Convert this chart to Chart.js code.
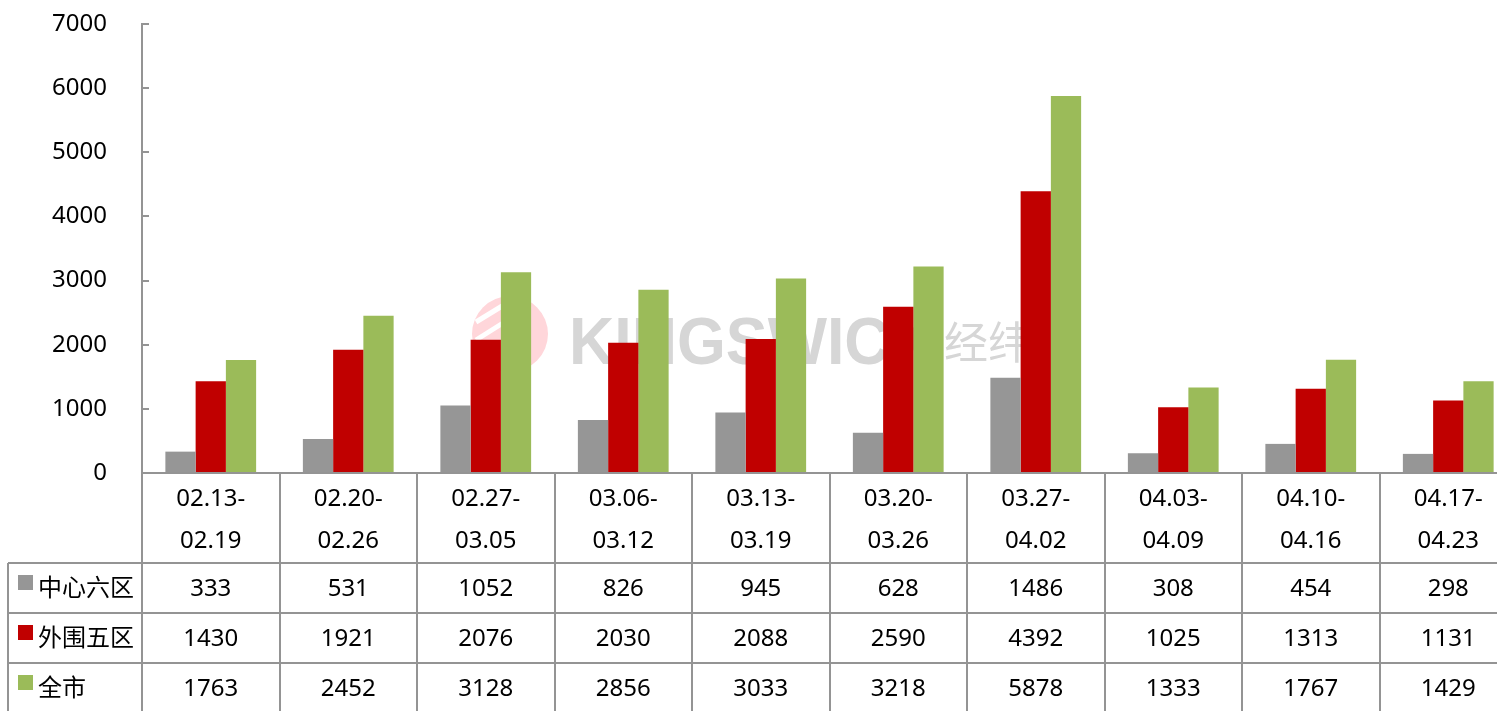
<!DOCTYPE html>
<html>
<head>
<meta charset="utf-8">
<script src="https://cdn.jsdelivr.net/npm/chart.js@4.4.1/dist/chart.umd.min.js"></script>
<style>
    html, body { margin: 0; padding: 0; background: #ffffff; overflow: hidden; }
    #wrap { width: 1520px; height: 711px; }
</style>
</head>
<body>
<div id="wrap"><canvas id="weekChart" width="1520" height="711"></canvas></div>
<script>
// Chart data
const weeks = [
    ['02.13-', '02.19'], ['02.20-', '02.26'], ['02.27-', '03.05'], ['03.06-', '03.12'], ['03.13-', '03.19'],
    ['03.20-', '03.26'], ['03.27-', '04.02'], ['04.03-', '04.09'], ['04.10-', '04.16'], ['04.17-', '04.23']
];
const seriesNames = ['中心六区', '外围五区', '全市'];
const centralSix = [333, 531, 1052, 826, 945, 628, 1486, 308, 454, 298];
const outerFive = [1430, 1921, 2076, 2030, 2088, 2590, 4392, 1025, 1313, 1131];
const wholeCity = [1763, 2452, 3128, 2856, 3033, 3218, 5878, 1333, 1767, 1429];
const yTicks = [0, 1000, 2000, 3000, 4000, 5000, 6000, 7000];

const seriesColors = ['#969696', '#C00000', '#9BBB59'];
const lineColor = '#949494';
const textFont = '"Noto Sans", "Noto Sans CJK SC", sans-serif';

// Faint watermark behind the bars
const watermarkPlugin = {
    id: 'watermark',
    beforeDatasetsDraw(chart) {
        const ctx = chart.ctx;
        ctx.save();
        // round logo
        ctx.fillStyle = '#ffd6da';
        ctx.beginPath();
        ctx.arc(510, 334, 38, 0, Math.PI * 2);
        ctx.fill();
        ctx.strokeStyle = '#ffffff';
        ctx.lineWidth = 5;
        ctx.beginPath();
        ctx.moveTo(476, 322); ctx.lineTo(512, 300);
        ctx.moveTo(476, 340); ctx.lineTo(530, 306);
        ctx.stroke();
        // text
        ctx.fillStyle = '#d6d6d6';
        ctx.textBaseline = 'alphabetic';
        ctx.font = 'bold 66px "Liberation Sans", sans-serif';
        const w = ctx.measureText('KINGSWICK').width;
        ctx.translate(569, 364);
        ctx.scale(366 / w, 1);
        ctx.fillText('KINGSWICK', 0, 0);
        ctx.restore();
        ctx.save();
        ctx.fillStyle = '#d6d6d6';
        ctx.font = '44px "Noto Sans CJK SC", sans-serif';
        ctx.textBaseline = 'middle';
        ctx.fillText('经纬', 944, 342);
        ctx.restore();
    }
};

// Inside tick marks on the value axis
const innerTicksPlugin = {
    id: 'innerTicks',
    afterDraw(chart) {
        const ctx = chart.ctx;
        const ys = chart.scales.y;
        const left = chart.chartArea.left;
        ctx.save();
        ctx.strokeStyle = lineColor;
        ctx.lineWidth = 2;
        ctx.beginPath();
        yTicks.forEach(v => {
            const y = Math.round(ys.getPixelForValue(v));
            ctx.moveTo(left, y);
            ctx.lineTo(left + 7, y);
        });
        ctx.stroke();
        ctx.restore();
    }
};

// Data table under the plot
const dataTablePlugin = {
    id: 'dataTable',
    afterDraw(chart) {
        const ctx = chart.ctx;
        const area = chart.chartArea;
        const colW = (area.right - area.left) / weeks.length;
        const top = area.bottom;
        const headerBottom = top + 90;
        const rowH = 50;
        const tableLeft = 8;
        const bottom = headerBottom + rowH * 3;

        ctx.save();
        ctx.strokeStyle = lineColor;
        ctx.lineWidth = 2;
        ctx.beginPath();
        // horizontal lines
        ctx.moveTo(area.left, top); ctx.lineTo(area.right, top);
        for (let r = 0; r < 3; r++) {
            const y = headerBottom + r * rowH;
            ctx.moveTo(tableLeft, y); ctx.lineTo(area.right, y);
        }
        // vertical lines
        ctx.moveTo(tableLeft, headerBottom); ctx.lineTo(tableLeft, bottom);
        for (let i = 0; i <= weeks.length; i++) {
            const x = Math.round(area.left + i * colW);
            ctx.moveTo(x, top); ctx.lineTo(x, bottom);
        }
        ctx.stroke();

        ctx.fillStyle = '#000000';
        ctx.font = '24px ' + textFont;
        ctx.textAlign = 'center';
        ctx.textBaseline = 'middle';
        // header labels
        weeks.forEach((lines, i) => {
            const cx = area.left + (i + 0.5) * colW;
            ctx.fillText(lines[0], cx, top + 26);
            ctx.fillText(lines[1], cx, top + 68);
        });
        // rows
        chart.data.datasets.forEach((ds, r) => {
            const cy = headerBottom + r * rowH + rowH / 2 + 1;
            ds.data.forEach((v, i) => {
                const cx = area.left + (i + 0.5) * colW;
                ctx.fillText(String(v), cx, cy);
            });
            ctx.fillStyle = ds.backgroundColor;
            ctx.fillRect(18, cy - 14, 15, 15);
            ctx.fillStyle = '#000000';
            ctx.textAlign = 'left';
            ctx.fillText(ds.label, 38, cy);
            ctx.textAlign = 'center';
        });
        ctx.restore();
    }
};

function generateBarChart() {
    const ctx = document.getElementById('weekChart').getContext('2d');
    new Chart(ctx, {
        type: 'bar',
        data: {
            labels: weeks,
            datasets: [
                { label: seriesNames[0], data: centralSix, backgroundColor: seriesColors[0] },
                { label: seriesNames[1], data: outerFive, backgroundColor: seriesColors[1] },
                { label: seriesNames[2], data: wholeCity, backgroundColor: seriesColors[2] }
            ]
        },
        options: {
            responsive: false,
            animation: false,
            layout: {
                padding: { top: 24, right: 3, bottom: 238, left: 0 }
            },
            datasets: {
                bar: { categoryPercentage: 0.66, barPercentage: 1 }
            },
            scales: {
                x: { display: false },
                y: {
                    min: 0,
                    max: 7000,
                    afterFit(scale) {
                        scale.width = 142;
                        scale.paddingTop = 0;
                        scale.paddingBottom = 0;
                    },
                    afterBuildTicks(scale) { scale.ticks = yTicks.map(v => ({ value: v })); },
                    grid: { display: false },
                    border: { color: lineColor, width: 2 },
                    ticks: {
                        color: '#000000',
                        padding: 27,
                        font: { family: textFont, size: 24 },
                        callback: value => String(value)
                    }
                }
            },
            plugins: {
                legend: { display: false },
                tooltip: { enabled: false }
            }
        },
        plugins: [watermarkPlugin, innerTicksPlugin, dataTablePlugin]
    });
}

document.addEventListener('DOMContentLoaded', function() {
    generateBarChart();
});
</script>
</body>
</html>
